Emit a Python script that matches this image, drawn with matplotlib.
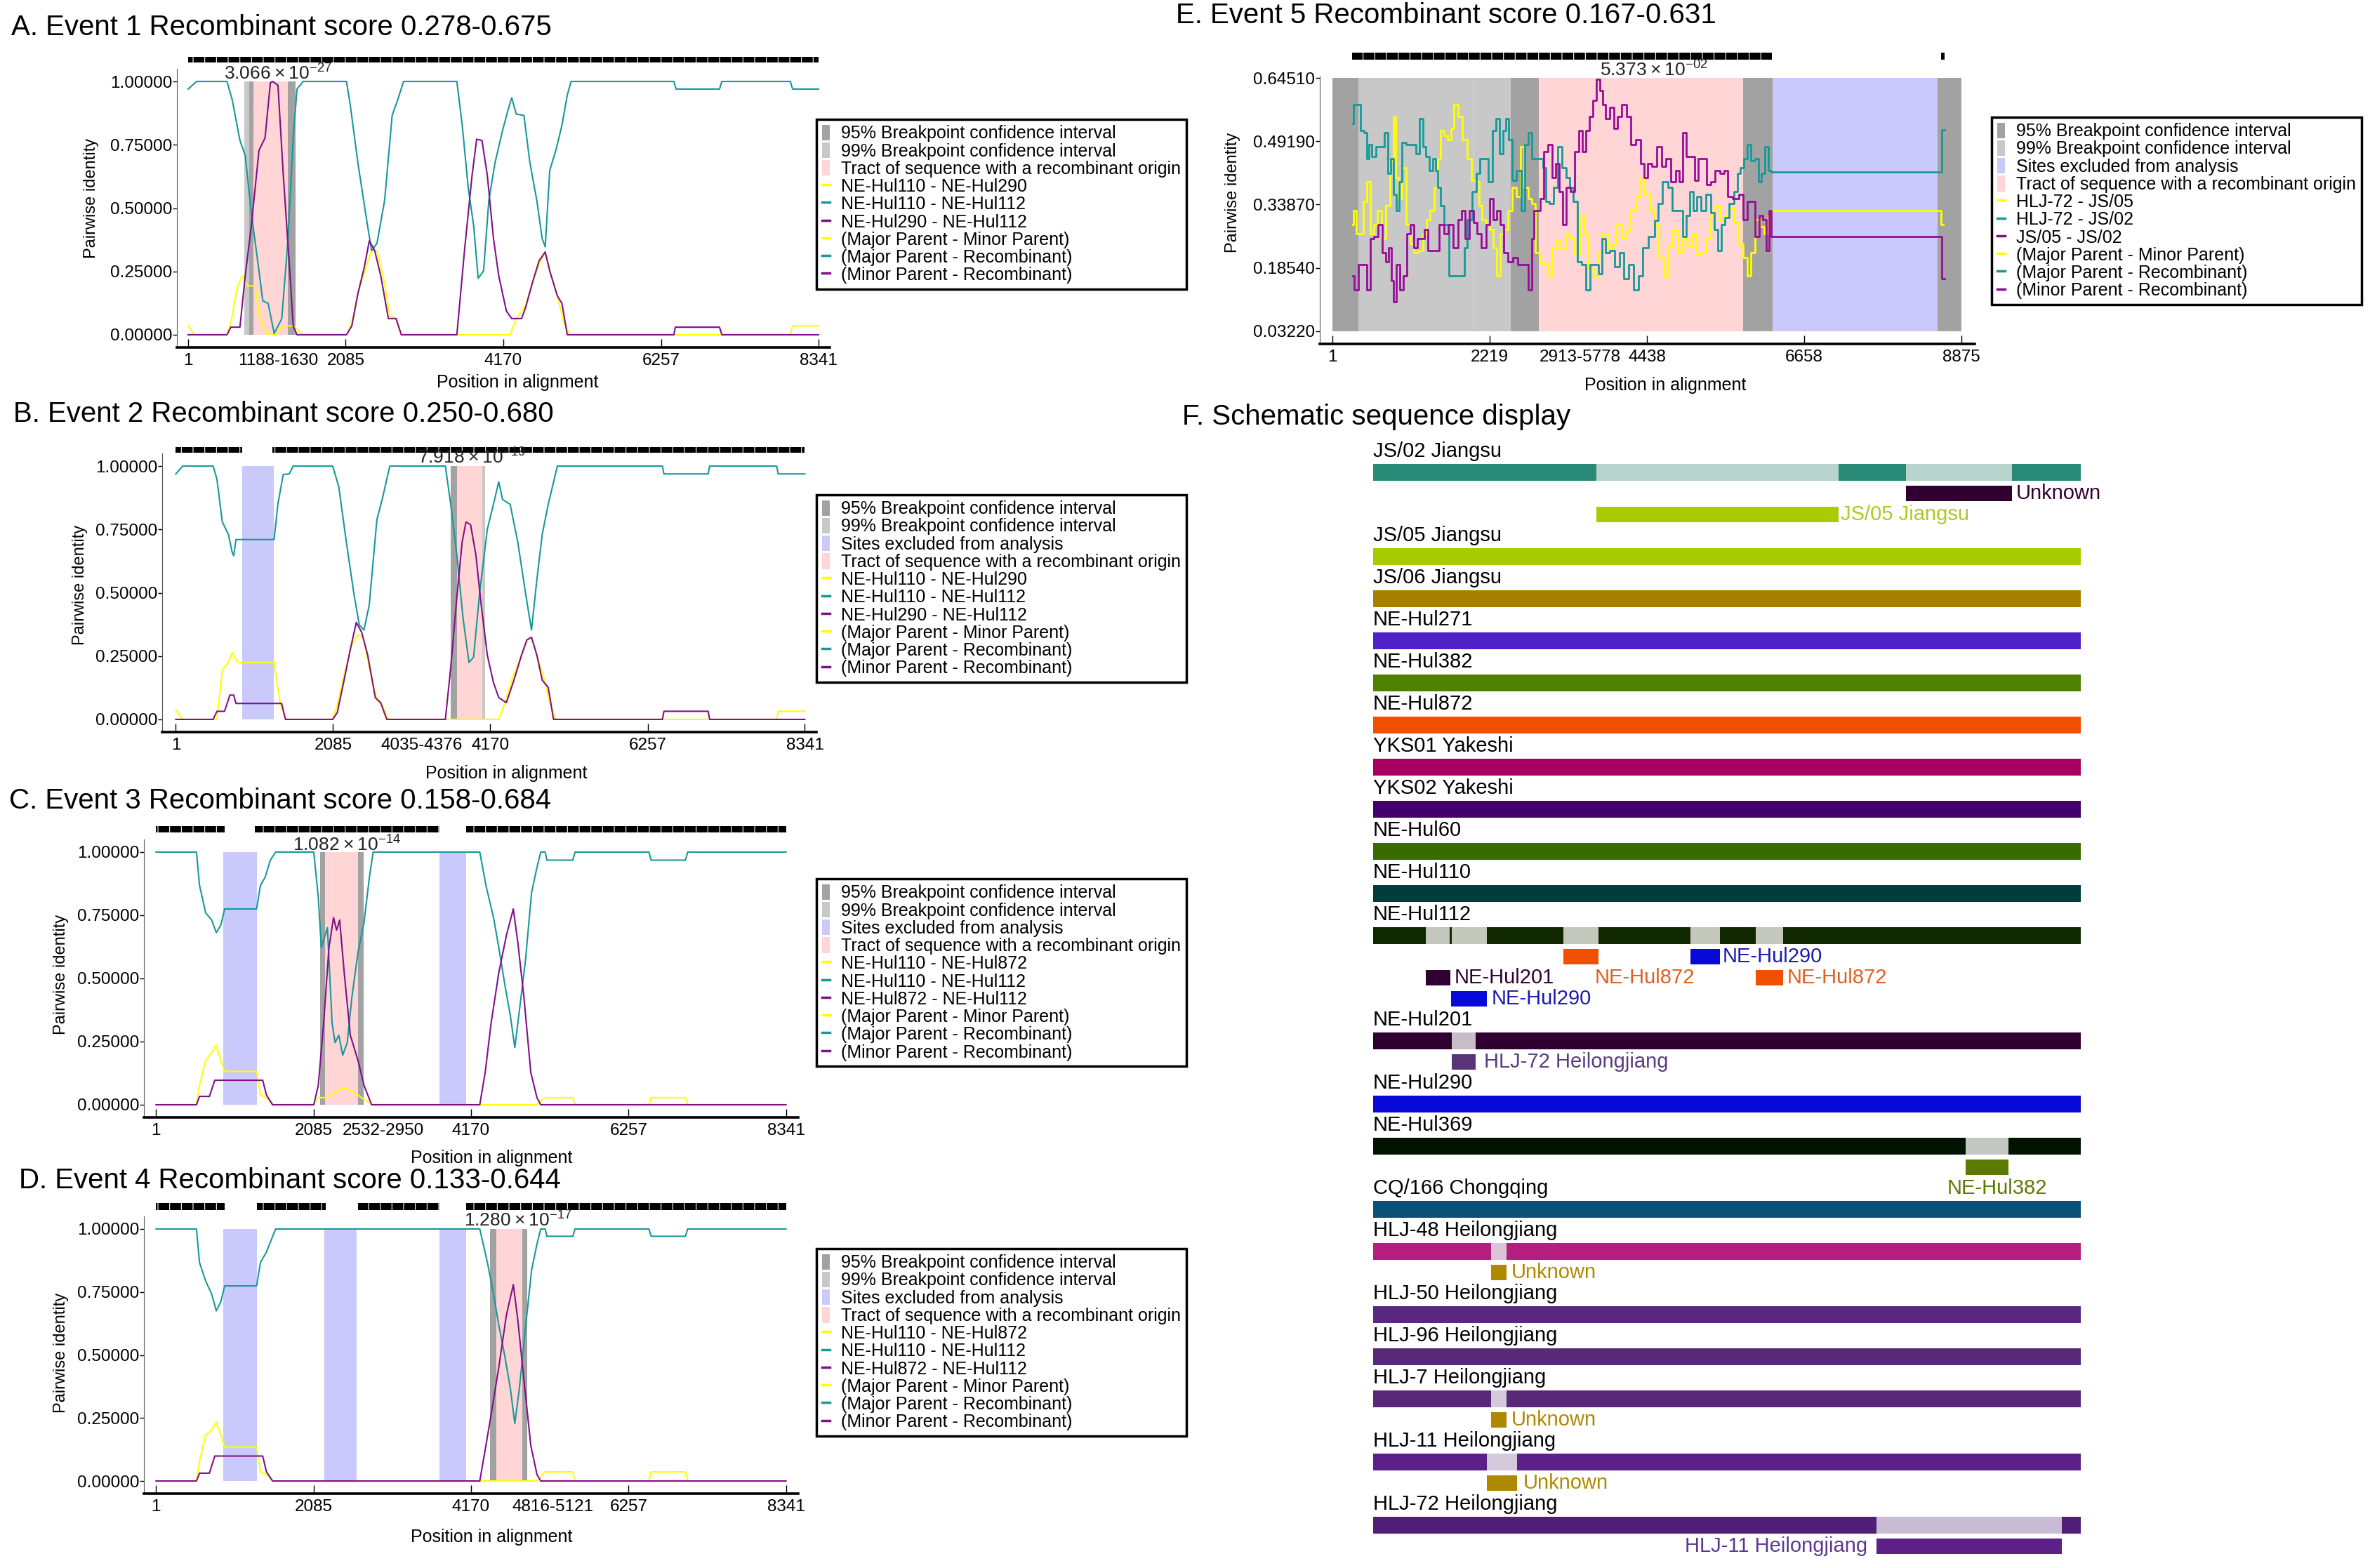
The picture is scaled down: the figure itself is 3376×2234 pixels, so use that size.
import matplotlib
matplotlib.use("Agg")
import matplotlib.pyplot as plt
from matplotlib.patches import Patch
from matplotlib.lines import Line2D

plt.rcParams["font.family"] = ["Liberation Sans", "DejaVu Sans"]
plt.rcParams["mathtext.fontset"] = "custom"
plt.rcParams["mathtext.rm"] = "Liberation Sans"
plt.rcParams["hatch.linewidth"] = 0.8

W, H = 3376, 2234

YELLOW = "#ffff00"
TEAL = "#16999a"
PURPLE = "#80108a"
SPAN_COLORS = {"95": "#a2a2a2", "99": "#c8c8c8", "excl": "#c9c9fb", "tract": "#ffd5d5"}

# ---------------- panel A (event 1) ----------------
a_teal_x = [1, 112, 515, 585, 686, 756, 837, 938, 988, 1059, 1139, 1240, 1320, 1391, 1441, 1522,
            2096, 2146, 2247, 2348, 2428, 2499, 2600, 2700, 2771, 2851, 3556, 3627, 3707, 3778,
            3838, 3909, 3979, 4060, 4161, 4241, 4282, 4342, 4443, 4523, 4614, 4684, 4725, 4785,
            4866, 4946, 5017, 5067, 6427, 6457, 7031, 7062, 7968, 7998, 8341]
a_teal_y = [0.97, 1.0, 1.0, 0.926, 0.767, 0.708, 0.480, 0.252, 0.134, 0.124, 0.005, 0.064, 0.371,
            0.777, 0.970, 1.0, 1.0, 0.906, 0.678, 0.480, 0.332, 0.361, 0.530, 0.866, 0.926, 1.0,
            1.0, 0.827, 0.579, 0.431, 0.223, 0.252, 0.530, 0.678, 0.807, 0.896, 0.936, 0.871,
            0.866, 0.678, 0.530, 0.381, 0.347, 0.649, 0.728, 0.827, 0.946, 1.0, 1.0, 0.970,
            0.970, 1.0, 1.0, 0.970, 0.970]
a_purple_x = [1, 515, 565, 686, 756, 837, 938, 1018, 1089, 1119, 1189, 1260, 1341, 1391, 1441,
              2096, 2166, 2247, 2328, 2398, 2469, 2549, 2650, 2751, 2821, 3556, 3657, 3757, 3818,
              3888, 3959, 4040, 4110, 4211, 4282, 4412, 4462, 4563, 4644, 4725, 4785, 4886, 4946,
              5017, 6427, 6447, 7031, 7062, 8341]
a_purple_y = [0, 0, 0.030, 0.030, 0.233, 0.431, 0.728, 0.777, 0.995, 1.0, 0.985, 0.629, 0.272,
              0.035, 0, 0, 0.035, 0.163, 0.262, 0.371, 0.332, 0.233, 0.064, 0.064, 0, 0, 0.332,
              0.629, 0.772, 0.767, 0.629, 0.381, 0.233, 0.094, 0.064, 0.064, 0.104, 0.213, 0.292,
              0.327, 0.252, 0.153, 0.124, 0, 0, 0.030, 0.030, 0, 0]
a_yellow_x = [1, 82, 515, 565, 656, 716, 787, 887, 938, 1038, 1159, 1240, 1391, 1522, 2096, 2166,
              2247, 2348, 2428, 2499, 2579, 2670, 2751, 2821, 4261, 4342, 4462, 4563, 4664, 4725,
              4785, 4886, 4966, 5047, 7968, 7998, 8341]
a_yellow_y = [0.035, 0, 0, 0.045, 0.193, 0.233, 0.193, 0.193, 0.084, 0.005, 0, 0.035, 0.035, 0,
              0, 0.045, 0.163, 0.262, 0.332, 0.332, 0.233, 0.074, 0.064, 0, 0, 0.064, 0.114,
              0.213, 0.292, 0.322, 0.252, 0.153, 0.054, 0, 0, 0.035, 0.035]
a_spans = [("99", 745, 807), ("95", 807, 867), ("tract", 867, 1320), ("95", 1320, 1420)]
a_rug = [(1, 8341)]

# ---------------- panel B (event 2) ----------------
b_teal_x = [1, 92, 496, 546, 617, 698, 748, 768, 799, 1304, 1354, 1425, 1506, 1556, 2081, 2162,
            2263, 2364, 2434, 2495, 2566, 2667, 2737, 2838, 3575, 3646, 3727, 3808, 3888, 3949,
            4030, 4131, 4212, 4283, 4333, 4434, 4535, 4636, 4717, 4788, 4859, 4939, 5060, 6453,
            6473, 7059, 7079, 7968, 7988, 8341]
b_teal_y = [0.969, 1.0, 1.0, 0.948, 0.780, 0.730, 0.660, 0.646, 0.710, 0.710, 0.849, 0.967,
            0.969, 1.0, 1.0, 0.918, 0.698, 0.492, 0.373, 0.353, 0.452, 0.789, 0.868, 1.0, 1.0,
            0.849, 0.650, 0.403, 0.225, 0.245, 0.502, 0.750, 0.849, 0.938, 0.868, 0.849, 0.700,
            0.502, 0.353, 0.551, 0.730, 0.849, 1.0, 1.0, 0.969, 0.969, 1.0, 1.0, 0.969, 0.969]
b_purple_x = [1, 496, 546, 647, 718, 768, 799, 1404, 1455, 2081, 2142, 2232, 2313, 2394, 2465,
              2545, 2646, 2717, 2798, 3575, 3646, 3727, 3797, 3848, 3909, 3979, 4050, 4131, 4212,
              4283, 4384, 4484, 4585, 4656, 4717, 4788, 4859, 4939, 5009, 6453, 6473, 7059, 7079,
              8341]
b_purple_y = [0, 0, 0.032, 0.032, 0.096, 0.096, 0.063, 0.063, 0, 0, 0.027, 0.155, 0.274, 0.383,
              0.344, 0.254, 0.086, 0.066, 0, 0, 0.205, 0.482, 0.700, 0.779, 0.769, 0.650, 0.452,
              0.254, 0.146, 0.086, 0.066, 0.155, 0.254, 0.314, 0.324, 0.254, 0.155, 0.126, 0, 0,
              0.032, 0.032, 0, 0]
b_yellow_x = [1, 92, 546, 617, 698, 748, 819, 1304, 1384, 1455, 2081, 2142, 2232, 2333, 2414,
              2485, 2566, 2667, 2737, 2818, 4283, 4354, 4454, 4585, 4656, 4717, 4788, 4889, 4959,
              5040, 7968, 7988, 8341]
b_yellow_y = [0.037, 0, 0, 0.195, 0.225, 0.264, 0.225, 0.225, 0.066, 0, 0, 0.056, 0.175, 0.294,
              0.334, 0.323, 0.205, 0.076, 0.056, 0, 0, 0.056, 0.155, 0.254, 0.314, 0.324, 0.254,
              0.155, 0.066, 0, 0, 0.032, 0.032]
b_spans = [("excl", 879, 1304), ("95", 3646, 3727), ("tract", 3727, 4060), ("99", 4060, 4100)]
b_rug = [(1, 879), (1283, 8341)]

# ---------------- panel C (event 3) ----------------
c_teal_x = [1, 536, 576, 657, 737, 798, 858, 909, 1332, 1383, 1443, 1514, 1584, 2089, 2149, 2189,
            2270, 2331, 2371, 2421, 2472, 2532, 2593, 2674, 2754, 2825, 2875, 4287, 4368, 4469,
            4539, 4620, 4691, 4751, 4812, 4892, 4973, 5044, 5094, 5154, 5175, 5518, 5548, 6526,
            6556, 7010, 7040, 8341]
c_teal_y = [1.0, 1.0, 0.869, 0.760, 0.731, 0.681, 0.711, 0.775, 0.775, 0.869, 0.899, 0.968, 1.0,
            1.0, 0.820, 0.622, 0.701, 0.325, 0.246, 0.275, 0.196, 0.246, 0.424, 0.602, 0.721,
            0.899, 1.0, 1.0, 0.869, 0.741, 0.622, 0.473, 0.354, 0.226, 0.374, 0.572, 0.840,
            0.939, 1.0, 1.0, 0.968, 0.968, 1.0, 1.0, 0.968, 0.968, 1.0, 1.0]
c_purple_x = [1, 536, 576, 707, 778, 1413, 1463, 1544, 2089, 2149, 2220, 2290, 2351, 2391, 2432,
              2492, 2573, 2674, 2754, 2855, 4287, 4358, 4438, 4539, 4640, 4731, 4791, 4872, 4963,
              5044, 5094, 8341]
c_purple_y = [0, 0, 0.033, 0.033, 0.097, 0.097, 0.038, 0, 0, 0.077, 0.325, 0.622, 0.741, 0.691,
              0.731, 0.523, 0.275, 0.176, 0.077, 0, 0, 0.127, 0.325, 0.523, 0.671, 0.775, 0.642,
              0.424, 0.127, 0.028, 0, 0]
c_yellow_x = [1, 536, 576, 657, 737, 798, 858, 909, 1332, 1383, 1463, 1544, 2089, 2149, 2270,
              2371, 2472, 2573, 2674, 2855, 5044, 5144, 5518, 5548, 6526, 6556, 7010, 7040, 8341]
c_yellow_y = [0, 0, 0.077, 0.176, 0.206, 0.236, 0.176, 0.132, 0.132, 0.038, 0.028, 0, 0, 0.028,
              0.028, 0.048, 0.067, 0.057, 0.038, 0, 0, 0.028, 0.028, 0, 0, 0.028, 0.028, 0, 0]
c_spans = [("excl", 888, 1332), ("excl", 3753, 4106), ("95", 2170, 2240), ("tract", 2240, 2674),
           ("95", 2674, 2754)]
c_rug = [(1, 909), (1312, 3753), (4106, 8341)]

# ---------------- panel D (event 4) ----------------
d_teal_x = [1, 536, 576, 657, 737, 798, 858, 909, 1332, 1383, 1463, 1584, 4287, 4388, 4469, 4539,
            4620, 4691, 4751, 4812, 4892, 4973, 5044, 5094, 5154, 5175, 5518, 5548, 6526, 6556,
            7010, 7040, 8341]
d_teal_y = [1.0, 1.0, 0.867, 0.794, 0.742, 0.675, 0.711, 0.774, 0.774, 0.867, 0.909, 1.0, 1.0,
            0.867, 0.742, 0.618, 0.493, 0.369, 0.228, 0.369, 0.607, 0.836, 0.940, 1.0, 1.0,
            0.971, 0.971, 1.0, 1.0, 0.971, 0.971, 1.0, 1.0]
d_purple_x = [1, 536, 576, 707, 778, 1413, 1463, 1544, 4287, 4368, 4438, 4539, 4640, 4731, 4791,
              4872, 4963, 5044, 5094, 8341]
d_purple_y = [0, 0, 0.031, 0.031, 0.099, 0.099, 0.036, 0, 0, 0.140, 0.265, 0.452, 0.659, 0.779,
              0.638, 0.400, 0.140, 0.026, 0, 0]
d_yellow_x = [1, 536, 576, 657, 737, 798, 858, 909, 1332, 1383, 1463, 1544, 5044, 5144, 5518,
              5548, 6526, 6556, 7010, 7040, 8341]
d_yellow_y = [0, 0, 0.078, 0.182, 0.202, 0.234, 0.182, 0.135, 0.135, 0.036, 0.026, 0, 0, 0.036,
              0.036, 0, 0, 0.036, 0.036, 0, 0]
d_spans = [("excl", 888, 1332), ("excl", 2230, 2654), ("excl", 3753, 4106), ("95", 4418, 4509),
           ("tract", 4509, 4852), ("95", 4852, 4913)]
d_rug = [(1, 909), (1332, 2250), (2674, 3753), (4106, 8341)]

# ---------------- panel E (event 5) ----------------
e_teal_x = [284, 317, 383, 416, 482, 499, 532, 581, 647, 713, 763, 796, 845, 878, 928, 961, 1010,
            1076, 1142, 1208, 1258, 1291, 1341, 1390, 1439, 1473, 1506, 1539, 1605, 1687, 1770,
            1852, 1869, 1935, 2001, 2067, 2100, 2166, 2232, 2281, 2331, 2380, 2430, 2463, 2512,
            2562, 2628, 2694, 2743, 2793, 2842, 2909, 2958, 2991, 3041, 3090, 3156, 3206, 3272,
            3321, 3371, 3420, 3486, 3552, 3602, 3668, 3734, 3783, 3833, 3882, 3948, 4014, 4080,
            4146, 4212, 4295, 4344, 4410, 4509, 4576, 4626, 4692, 4774, 4807, 4906, 4972, 5022,
            5071, 5121, 5170, 5236, 5302, 5368, 5418, 5467, 5517, 5566, 5632, 5698, 5731, 5781,
            5830, 5880, 5929, 5995, 6028, 6078, 6128, 6177, 6210, 8554, 8636]
e_teal_y = [0.534, 0.580, 0.580, 0.517, 0.512, 0.449, 0.483, 0.455, 0.478, 0.478, 0.512, 0.415,
            0.449, 0.364, 0.324, 0.393, 0.489, 0.483, 0.483, 0.461, 0.546, 0.478, 0.455, 0.421,
            0.449, 0.421, 0.381, 0.336, 0.290, 0.166, 0.166, 0.166, 0.234, 0.302, 0.370, 0.415,
            0.449, 0.449, 0.393, 0.517, 0.546, 0.461, 0.517, 0.546, 0.495, 0.398, 0.421, 0.324,
            0.483, 0.512, 0.449, 0.449, 0.449, 0.427, 0.347, 0.341, 0.381, 0.478, 0.427, 0.404,
            0.381, 0.347, 0.200, 0.194, 0.132, 0.194, 0.194, 0.171, 0.256, 0.222, 0.228, 0.188,
            0.222, 0.160, 0.194, 0.132, 0.166, 0.234, 0.262, 0.300, 0.341, 0.393, 0.381, 0.324,
            0.324, 0.262, 0.313, 0.370, 0.324, 0.358, 0.324, 0.364, 0.319, 0.279, 0.228, 0.290,
            0.307, 0.341, 0.370, 0.415, 0.427, 0.449, 0.483, 0.444, 0.449, 0.393, 0.415, 0.478,
            0.421, 0.418, 0.418, 0.520]
e_purple_x = [284, 334, 400, 466, 515, 565, 614, 680, 730, 779, 812, 845, 878, 928, 977, 1027,
              1076, 1126, 1175, 1225, 1274, 1324, 1373, 1473, 1539, 1605, 1671, 1737, 1803, 1852,
              1902, 1968, 2017, 2067, 2133, 2199, 2249, 2298, 2347, 2397, 2446, 2512, 2578, 2644,
              2743, 2793, 2826, 2859, 2909, 2958, 3008, 3074, 3123, 3173, 3222, 3272, 3321, 3387,
              3453, 3503, 3552, 3602, 3651, 3701, 3750, 3800, 3833, 3882, 3948, 3998, 4047, 4113,
              4179, 4245, 4311, 4377, 4411, 4477, 4543, 4609, 4675, 4741, 4807, 4873, 4923, 4972,
              5005, 5088, 5137, 5187, 5253, 5302, 5368, 5434, 5500, 5550, 5599, 5698, 5764, 5830,
              5880, 5929, 5995, 6045, 6095, 6144, 6177, 6210, 8554, 8636]
e_purple_y = [0.166, 0.132, 0.194, 0.194, 0.132, 0.256, 0.262, 0.290, 0.222, 0.200, 0.234, 0.154,
              0.103, 0.194, 0.132, 0.166, 0.268, 0.290, 0.234, 0.256, 0.256, 0.279, 0.228, 0.228,
              0.290, 0.268, 0.290, 0.234, 0.302, 0.324, 0.256, 0.324, 0.296, 0.268, 0.234, 0.290,
              0.353, 0.302, 0.324, 0.290, 0.222, 0.200, 0.211, 0.194, 0.194, 0.132, 0.256, 0.324,
              0.324, 0.353, 0.466, 0.483, 0.404, 0.438, 0.370, 0.290, 0.381, 0.370, 0.466, 0.517,
              0.466, 0.517, 0.551, 0.591, 0.642, 0.614, 0.580, 0.546, 0.574, 0.523, 0.551, 0.580,
              0.551, 0.483, 0.495, 0.438, 0.404, 0.438, 0.432, 0.478, 0.432, 0.449, 0.393, 0.421,
              0.393, 0.512, 0.455, 0.455, 0.398, 0.449, 0.449, 0.387, 0.393, 0.421, 0.415, 0.421,
              0.358, 0.353, 0.364, 0.302, 0.347, 0.347, 0.262, 0.313, 0.302, 0.228, 0.324, 0.262,
              0.262, 0.160]
e_yellow_x = [284, 317, 367, 416, 466, 515, 565, 614, 664, 730, 779, 845, 878, 911, 961, 1010,
              1076, 1126, 1175, 1241, 1307, 1357, 1406, 1473, 1506, 1539, 1605, 1654, 1687, 1737,
              1803, 1869, 1935, 1984, 2050, 2083, 2133, 2199, 2249, 2298, 2347, 2397, 2446, 2512,
              2562, 2628, 2677, 2727, 2793, 2842, 2892, 2958, 3024, 3074, 3123, 3189, 3255, 3321,
              3387, 3453, 3519, 3585, 3651, 3717, 3783, 3849, 3915, 3981, 4047, 4113, 4179, 4245,
              4311, 4377, 4443, 4509, 4576, 4642, 4708, 4774, 4840, 4906, 4972, 5038, 5104, 5170,
              5236, 5302, 5368, 5434, 5500, 5566, 5632, 5698, 5764, 5830, 5880, 5929, 5995, 6061,
              6128, 6177, 6210, 8554, 8620]
e_yellow_y = [0.290, 0.324, 0.268, 0.268, 0.347, 0.393, 0.268, 0.290, 0.324, 0.256, 0.336, 0.444,
              0.551, 0.404, 0.353, 0.427, 0.290, 0.245, 0.222, 0.228, 0.268, 0.302, 0.324, 0.381,
              0.449, 0.517, 0.506, 0.495, 0.523, 0.580, 0.551, 0.495, 0.449, 0.398, 0.393, 0.336,
              0.302, 0.290, 0.279, 0.234, 0.166, 0.268, 0.279, 0.324, 0.381, 0.358, 0.478, 0.381,
              0.353, 0.341, 0.222, 0.200, 0.194, 0.166, 0.234, 0.251, 0.234, 0.268, 0.256, 0.217,
              0.313, 0.268, 0.183, 0.166, 0.222, 0.268, 0.234, 0.245, 0.290, 0.256, 0.279, 0.324,
              0.358, 0.404, 0.364, 0.324, 0.290, 0.211, 0.166, 0.239, 0.279, 0.222, 0.256, 0.239,
              0.268, 0.217, 0.222, 0.256, 0.313, 0.336, 0.302, 0.313, 0.330, 0.296, 0.245, 0.211,
              0.166, 0.222, 0.302, 0.285, 0.268, 0.313, 0.324, 0.324, 0.290]
e_spans = [("95", 1, 366), ("99", 366, 2512), ("excl", 1985, 2003), ("95", 2512, 2913),
           ("tract", 2913, 5790), ("95", 5790, 6210), ("excl", 6210, 8537), ("95", 8537, 8875)]
e_rug = [(283, 6197), (8587, 8636)]

ad_ticks = [1, 2085, 4170, 6257, 8341]
e_ticks = [1, 2219, 4438, 6658, 8875]
ad_yticks = [0.0, 0.25, 0.5, 0.75, 1.0]
e_yticks = [0.0322, 0.1854, 0.3387, 0.4919, 0.6451]
e_yticklabels = ["0.03220", "0.18540", "0.33870", "0.49190", "0.64510"]

pairs_12 = ["NE-Hul110 - NE-Hul290", "NE-Hul110 - NE-Hul112", "NE-Hul290 - NE-Hul112"]
pairs_34 = ["NE-Hul110 - NE-Hul872", "NE-Hul110 - NE-Hul112", "NE-Hul872 - NE-Hul112"]
pairs_5 = ["HLJ-72 - JS/05", "HLJ-72 - JS/02", "JS/05 - JS/02"]

# ---------------- panel F (schematic) ----------------
seq_names = ["JS/02 Jiangsu", "JS/05 Jiangsu", "JS/06 Jiangsu", "NE-Hul271", "NE-Hul382",
             "NE-Hul872", "YKS01 Yakeshi", "YKS02 Yakeshi", "NE-Hul60", "NE-Hul110",
             "NE-Hul112", "NE-Hul201", "NE-Hul290", "NE-Hul369", "CQ/166 Chongqing",
             "HLJ-48 Heilongjiang", "HLJ-50 Heilongjiang", "HLJ-96 Heilongjiang",
             "HLJ-7 Heilongjiang", "HLJ-11 Heilongjiang", "HLJ-72 Heilongjiang"]
seq_colors = ["#2a8a78", "#a6cc00", "#a88000", "#5020c8", "#508000", "#f05000", "#a80060",
              "#44006c", "#386c00", "#003c3c", "#102800", "#300030", "#0808d8", "#001400",
              "#0a5078", "#b41e7e", "#5a2880", "#5a2878", "#5a2878", "#5c2088", "#4e1e78"]
seq_subrows = [2, 0, 0, 0, 0, 0, 0, 0, 0, 0, 3, 1, 0, 1, 0, 1, 0, 0, 1, 1, 1]
light_segments = {
    "JS/02 Jiangsu": [(0.315, 0.658, "#b8d4cc"), (0.753, 0.903, "#b8d4cc")],
    "NE-Hul112": [(0.074, 0.108, "#c4c8bc"), (0.111, 0.161, "#c4c8bc"), (0.269, 0.318, "#c4c8bc"),
                  (0.448, 0.490, "#c4c8bc"), (0.541, 0.579, "#c4c8bc")],
    "NE-Hul201": [(0.111, 0.145, "#c8bcc8")],
    "NE-Hul369": [(0.837, 0.898, "#c4c8c4")],
    "HLJ-48 Heilongjiang": [(0.167, 0.188, "#dcc4d8")],
    "HLJ-7 Heilongjiang": [(0.167, 0.188, "#d4c8dc")],
    "HLJ-11 Heilongjiang": [(0.161, 0.203, "#d4c8dc")],
    "HLJ-72 Heilongjiang": [(0.711, 0.973, "#c8bcd4")],
}
sub_bars = [
    ("JS/02 Jiangsu", 1, 0.753, 0.903, "#300030"),
    ("JS/02 Jiangsu", 2, 0.315, 0.658, "#a8cc00"),
    ("NE-Hul112", 1, 0.269, 0.318, "#f05000"),
    ("NE-Hul112", 1, 0.448, 0.490, "#0808d8"),
    ("NE-Hul112", 2, 0.074, 0.109, "#300030"),
    ("NE-Hul112", 2, 0.541, 0.579, "#f05000"),
    ("NE-Hul112", 3, 0.110, 0.161, "#0808d8"),
    ("NE-Hul201", 1, 0.111, 0.145, "#5a3478"),
    ("NE-Hul369", 1, 0.837, 0.898, "#5a7a00"),
    ("HLJ-48 Heilongjiang", 1, 0.167, 0.188, "#b08800"),
    ("HLJ-7 Heilongjiang", 1, 0.167, 0.188, "#b08800"),
    ("HLJ-11 Heilongjiang", 1, 0.161, 0.203, "#b08800"),
    ("HLJ-72 Heilongjiang", 1, 0.711, 0.973, "#5c2088"),
]
sub_labels = [
    ("JS/02 Jiangsu", 1, 0.908, "Unknown", "#300030", "left"),
    ("JS/02 Jiangsu", 2, 0.661, "JS/05 Jiangsu", "#b0c820", "left"),
    ("NE-Hul112", 1, 0.494, "NE-Hul290", "#1a1ab0", "left"),
    ("NE-Hul112", 2, 0.115, "NE-Hul201", "#300030", "left"),
    ("NE-Hul112", 2, 0.313, "NE-Hul872", "#e06020", "left"),
    ("NE-Hul112", 2, 0.585, "NE-Hul872", "#e06020", "left"),
    ("NE-Hul112", 3, 0.167, "NE-Hul290", "#1a1ab0", "left"),
    ("NE-Hul201", 1, 0.157, "HLJ-72 Heilongjiang", "#5a3c80", "left"),
    ("NE-Hul369", 2, 0.882, "NE-Hul382", "#5a7a00", "center"),
    ("HLJ-48 Heilongjiang", 1, 0.195, "Unknown", "#b08800", "left"),
    ("HLJ-7 Heilongjiang", 1, 0.195, "Unknown", "#b08800", "left"),
    ("HLJ-11 Heilongjiang", 1, 0.212, "Unknown", "#b08800", "left"),
    ("HLJ-72 Heilongjiang", 1, 0.699, "HLJ-11 Heilongjiang", "#5c3890", "right"),
]

fig = plt.figure(figsize=(W / 100, H / 100), dpi=100)


def px_rect(left, top, width, height):
    return [left / W, 1 - (top + height) / H, width / W, height / H]


def event_axes(left, top, width, height, xlim, ylim):
    ax = fig.add_axes(px_rect(left, top, width, height))
    ax.set_xlim(*xlim)
    ax.set_ylim(*ylim)
    ax.spines["top"].set_visible(False)
    ax.spines["right"].set_visible(False)
    ax.spines["bottom"].set_linewidth(2.6)
    ax.spines["left"].set_linewidth(0.8)
    ax.spines["left"].set_color("#555555")
    ax.tick_params(axis="x", which="both", direction="in", length=9, width=1.0, pad=6,
                   labelsize=17.5)
    ax.tick_params(axis="x", which="minor", length=0)
    ax.tick_params(axis="y", direction="out", length=4, width=1.0, pad=1, labelsize=17.5)
    return ax


def draw_event(ax, spans, y_lo, y_hi, series, rug, rug_y, pval, pval_xy,
               ticks, bp_label, bp_pos, yticks, ylabels, title, title_xy,
               pair_labels, legend_xy, ylab_xy, xlab_xy, with_excl=True, steps=False):
    for kind, s, e in spans:
        ax.fill_between([s, e], y_lo, y_hi, color=SPAN_COLORS[kind], lw=0, zorder=1)
    ds = "steps-mid" if steps else "default"
    lw = 2.0 if steps else 1.5
    for xs, ys, c in series:
        ax.plot(xs, ys, color=c, lw=lw, drawstyle=ds, zorder=3)
    ax.broken_barh([(s, e - s) for s, e in rug], rug_y, facecolors="black",
                   edgecolor="white", hatch="|", linewidth=0, clip_on=False, zorder=4)
    mant, expo = pval
    ax.text(pval_xy[0], pval_xy[1], r"$\mathregular{%s\times10^{%s}}$" % (mant, expo),
            ha="center", va="center", fontsize=19, color="#222222", clip_on=False, zorder=5)
    ax.set_xticks(ticks, labels=[str(t) for t in ticks])
    ax.set_xticks([bp_pos], labels=[bp_label], minor=True)
    ax.set_yticks(yticks, labels=ylabels)
    fig.text(title_xy[0] / W, 1 - title_xy[1] / H, title, fontsize=29, ha="left", va="center")
    ax.text(ylab_xy[0], ylab_xy[1], "Pairwise identity", transform=ax.transAxes, rotation=90,
            ha="center", va="center", fontsize=17)
    ax.text(xlab_xy[0], xlab_xy[1], "Position in alignment", transform=ax.transAxes,
            ha="center", va="center", fontsize=18)

    handles = [Patch(facecolor=SPAN_COLORS["95"]), Patch(facecolor=SPAN_COLORS["99"])]
    labels = ["95% Breakpoint confidence interval", "99% Breakpoint confidence interval"]
    if with_excl:
        handles.append(Patch(facecolor=SPAN_COLORS["excl"]))
        labels.append("Sites excluded from analysis")
    handles.append(Patch(facecolor=SPAN_COLORS["tract"]))
    labels.append("Tract of sequence with a recombinant origin")
    for c in (YELLOW, TEAL, PURPLE, YELLOW, TEAL, PURPLE):
        handles.append(Line2D([], [], color=c, lw=2.5))
    labels += pair_labels + ["(Major Parent - Minor Parent)", "(Major Parent - Recombinant)",
                             "(Minor Parent - Recombinant)"]
    leg = fig.legend(handles, labels, loc="upper left",
                     bbox_to_anchor=(legend_xy[0] / W, 1 - legend_xy[1] / H),
                     fontsize=18, handlelength=0.45, handleheight=1.0, handletextpad=0.65,
                     borderpad=0.3, labelspacing=0.02, borderaxespad=0, fancybox=False,
                     framealpha=1)
    leg.get_frame().set_edgecolor("black")
    leg.get_frame().set_linewidth(2.5)


ad_ylabels = ["%.5f" % v for v in ad_yticks]

axA = event_axes(252, 98, 930, 397, (-148, 8490), (-0.05, 1.05))
draw_event(axA, a_spans, 0, 1, [(a_yellow_x, a_yellow_y, YELLOW), (a_teal_x, a_teal_y, TEAL),
                                (a_purple_x, a_purple_y, PURPLE)],
           a_rug, (1.076, 0.022), ("3.066", "-27"), (1190, 1.03), ad_ticks, "1188-1630", 1189,
           ad_yticks, ad_ylabels, "A. Event 1 Recombinant score 0.278-0.675", (16, 39),
           pairs_12, (1163, 170), (-0.131, 0.536), (0.5215, -0.126), with_excl=False)

axB = event_axes(231, 646, 932, 397, (-180, 8495), (-0.05, 1.05))
draw_event(axB, b_spans, 0, 1, [(b_yellow_x, b_yellow_y, YELLOW), (b_teal_x, b_teal_y, TEAL),
                                (b_purple_x, b_purple_y, PURPLE)],
           b_rug, (1.052, 0.022), ("7.918", "-19"), (3928, 1.033), ad_ticks, "4035-4376", 3262,
           ad_yticks, ad_ylabels, "B. Event 2 Recombinant score 0.250-0.680", (19, 590),
           pairs_12, (1163, 705), (-0.1255, 0.529), (0.526, -0.149))

axC = event_axes(205, 1196, 932, 396, (-160, 8503), (-0.05, 1.05))
draw_event(axC, c_spans, 0, 1, [(c_yellow_x, c_yellow_y, YELLOW), (c_teal_x, c_teal_y, TEAL),
                                (c_purple_x, c_purple_y, PURPLE)],
           c_rug, (1.078, 0.026), ("1.082", "-14"), (2522, 1.028), ad_ticks, "2532-2950", 3006,
           ad_yticks, ad_ylabels, "C. Event 3 Recombinant score 0.158-0.684", (13, 1141),
           pairs_34, (1163, 1252), (-0.127, 0.513), (0.531, -0.146))

axD = event_axes(205, 1733, 932, 395, (-160, 8503), (-0.05, 1.05))
draw_event(axD, d_spans, 0, 1, [(d_yellow_x, d_yellow_y, YELLOW), (d_teal_x, d_teal_y, TEAL),
                                (d_purple_x, d_purple_y, PURPLE)],
           d_rug, (1.074, 0.03), ("1.280", "-17"), (4791, 1.033), ad_ticks, "4816-5121", 5255,
           ad_yticks, ad_ylabels, "D. Event 4 Recombinant score 0.133-0.644", (27, 1682),
           pairs_34, (1163, 1779), (-0.127, 0.509), (0.531, -0.157))

axE = event_axes(1880, 109, 933, 381, (-177, 9063), (0.0016, 0.6485))
draw_event(axE, e_spans, 0.0322, 0.6451,
           [(e_yellow_x, e_yellow_y, YELLOW), (e_teal_x, e_teal_y, TEAL),
            (e_purple_x, e_purple_y, "#9a0a9a")],
           e_rug, (0.690, 0.017), ("5.373", "-02"), (4536, 0.664), e_ticks, "2913-5778", 3490,
           e_yticks, e_yticklabels, "E. Event 5 Recombinant score 0.167-0.631", (1675, 22),
           pairs_5, (2837, 167), (-0.133, 0.567), (0.527, -0.155), steps=True)

# schematic sequence display
axF = fig.add_axes(px_rect(1956, 613, 1008, 1620))
axF.set_xlim(0, 1)
axF.set_ylim(53, -1)
axF.axis("off")
fig.text(1684 / W, 1 - 594 / H, "F. Schematic sequence display", fontsize=29, ha="left",
         va="center")

row_unit = {}
unit = 0
for name, color, nsub in zip(seq_names, seq_colors, seq_subrows):
    row_unit[name] = unit
    axF.text(0, unit, name, ha="left", va="center", fontsize=21)
    axF.barh(unit + 1, 1, left=0, height=0.8, color=color, lw=0)
    for s, e, c in light_segments.get(name, []):
        axF.barh(unit + 1, e - s, left=s, height=0.8, color=c, lw=0)
    unit += 2 + nsub

for name, k, s, e, c in sub_bars:
    axF.barh(row_unit[name] + 1 + k, e - s, left=s, height=0.75, color=c, lw=0)
for name, k, x, txt, c, ha in sub_labels:
    axF.text(x, row_unit[name] + 1 + k, txt, ha=ha, va="center", fontsize=21, color=c,
             clip_on=False)

fig.savefig("out.png", dpi=100)
